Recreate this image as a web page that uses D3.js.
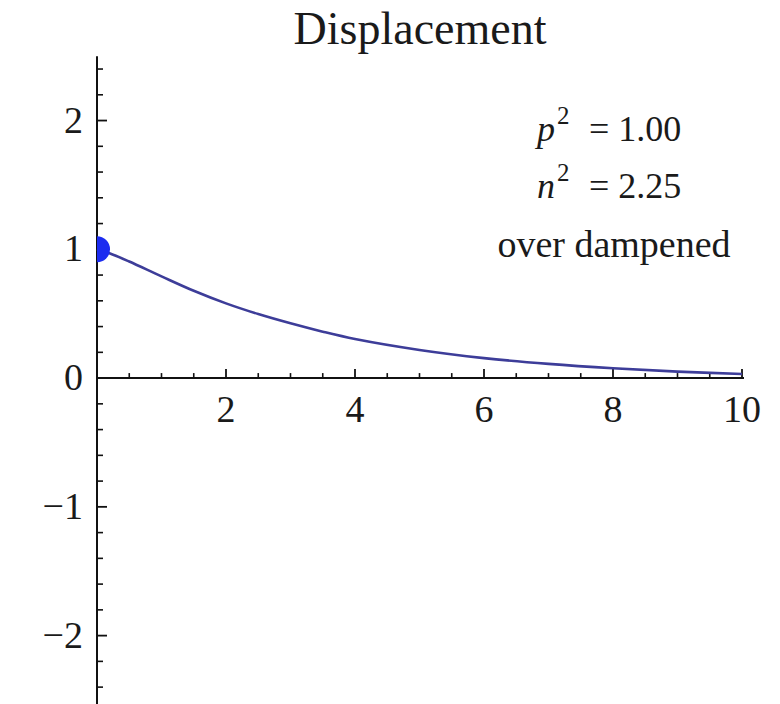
<!DOCTYPE html>
<html><head><meta charset="utf-8">
<script src="https://cdn.jsdelivr.net/npm/d3@7"></script>
<style>body{margin:0;background:#fff}svg{display:block}text{font-family:"Liberation Serif","DejaVu Serif",serif;fill:#1a1a1a}</style>
</head><body><svg id="chart" width="780" height="704"></svg>
<script>
// Displacement of an over-damped oscillator, x(t) with x(0) = 1
const timeValues = [0, 0.25, 0.5, 1, 1.5, 2, 2.5, 3, 3.5, 4, 5, 6, 7, 8, 9, 10];
const displacementValues = [1.0, 0.958, 0.905, 0.79, 0.678, 0.58, 0.497, 0.425, 0.36, 0.303, 0.218, 0.155, 0.11, 0.076, 0.05, 0.032];
const xTickValues = [2, 4, 6, 8, 10];
const yTickValues = [-2, -1, 0, 1, 2];
const paramNames = ["p", "n"];
const paramValues = ["1.00", "2.25"];
const regimeLabel = "over dampened";
const titleText = "Displacement";

const svg = d3.select("#chart");
const x = d3.scaleLinear().domain([0, 10]).range([97, 742]);
const y = d3.scaleLinear().domain([-2.5, 2.45]).range([700, 62.6]);

svg.append("text").attr("x", 420).attr("y", 44).attr("text-anchor", "middle")
  .attr("font-size", 46).text(titleText);

const axes = svg.append("g").attr("stroke", "#111");
// x axis with ticks pointing into the plot
axes.append("line").attr("x1", x(0)).attr("x2", x(10) + 2).attr("y1", y(0)).attr("y2", y(0)).attr("stroke-width", 2);
const xMinor = d3.range(0.5, 10.01, 0.5).filter(v => Math.abs(v - Math.round(v / 2) * 2) > 1e-6);
axes.selectAll(".xminor").data(xMinor).join("line")
  .attr("x1", d => x(d)).attr("x2", d => x(d)).attr("y1", y(0)).attr("y2", y(0) - 5).attr("stroke-width", 1.6);
axes.selectAll(".xmajor").data(xTickValues).join("line")
  .attr("x1", d => x(d)).attr("x2", d => x(d)).attr("y1", y(0)).attr("y2", y(0) - 9).attr("stroke-width", 1.8);
// y axis
axes.append("line").attr("x1", x(0)).attr("x2", x(0)).attr("y1", y(2.5)).attr("y2", 704).attr("stroke-width", 2);
const yMinor = d3.range(-25, 25).map(v => v / 10).filter(v => Math.abs(v * 5 - Math.round(v * 5)) < 1e-6 && Math.abs(v - Math.round(v)) > 1e-6);
axes.selectAll(".yminor").data(yMinor).join("line")
  .attr("x1", x(0)).attr("x2", x(0) + 6).attr("y1", d => y(d)).attr("y2", d => y(d)).attr("stroke-width", 1.6);
axes.selectAll(".ymajor").data(yTickValues.filter(v => v !== 0)).join("line")
  .attr("x1", x(0)).attr("x2", x(0) + 10).attr("y1", d => y(d)).attr("y2", d => y(d)).attr("stroke-width", 1.8);

svg.selectAll(".xlab").data(xTickValues).join("text")
  .attr("x", d => x(d)).attr("y", y(0) + 44).attr("text-anchor", "middle").attr("font-size", 38)
  .text(d => d);
svg.selectAll(".ylab").data(yTickValues).join("text")
  .attr("x", 83).attr("y", d => y(d) + 12).attr("text-anchor", "end").attr("font-size", 38)
  .text(d => d < 0 ? "\u2212" + Math.abs(d) : d);

// displacement curve and the starting mass position
svg.append("defs").append("clipPath").attr("id", "plotClip")
  .append("rect").attr("x", x(0)).attr("y", 0).attr("width", 700).attr("height", 704);
const line = d3.line().x((d, i) => x(timeValues[i])).y(d => y(d)).curve(d3.curveCatmullRom.alpha(0.5));
svg.append("path").datum(displacementValues).attr("d", line)
  .attr("fill", "none").attr("stroke", "#3d3d99").attr("stroke-width", 2.6);
svg.append("circle").attr("clip-path", "url(#plotClip)")
  .attr("cx", x(timeValues[0])).attr("cy", y(displacementValues[0])).attr("r", 13)
  .attr("fill", "#1c2cf0");

// parameter annotations
const ann = svg.append("g").attr("font-size", 36);
paramNames.forEach((nm, i) => {
  const yy = 141 + i * 57;
  const t = ann.append("text").attr("x", 537).attr("y", yy);
  t.append("tspan").attr("font-style", "italic").text(nm);
  t.append("tspan").attr("font-size", 25).attr("dy", -17).attr("dx", 2).text("2");
  ann.append("text").attr("x", 589).attr("y", yy).text("= " + paramValues[i]);
});
ann.append("text").attr("x", 614).attr("y", 257).attr("text-anchor", "middle").attr("font-size", 38).text(regimeLabel);
</script></body></html>
